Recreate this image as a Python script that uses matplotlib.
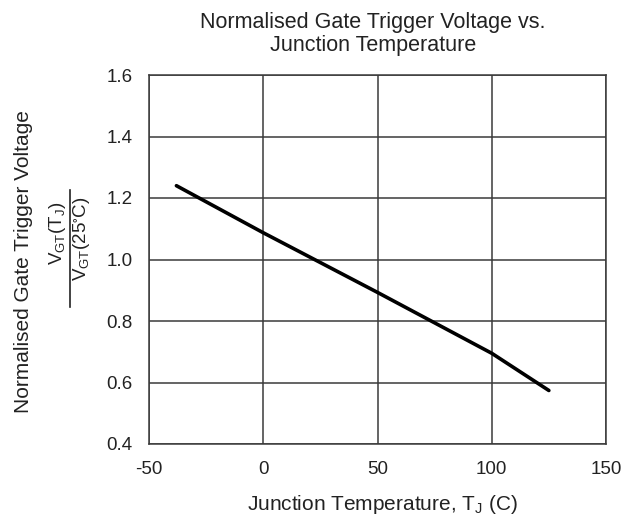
import matplotlib
matplotlib.use("Agg")
import matplotlib.pyplot as plt
from matplotlib.lines import Line2D

plt.rcParams['font.family'] = ['Liberation Sans', 'DejaVu Sans']
plt.rcParams['mathtext.fontset'] = 'custom'
plt.rcParams['mathtext.rm'] = 'Liberation Sans'
plt.rcParams['mathtext.it'] = 'Liberation Sans'
plt.rcParams['mathtext.default'] = 'regular'
plt.rcParams['axes.unicode_minus'] = False

temperature = [-38, 0, 50, 100, 125]
norm_vgt = [1.24, 1.087, 0.893, 0.695, 0.574]
x_ticks = [-50, 0, 50, 100, 150]
y_ticks = [0.4, 0.6, 0.8, 1.0, 1.2, 1.4, 1.6]

W, H = 636, 520
fig = plt.figure(figsize=(W / 100, H / 100), dpi=100)
ax = fig.add_axes([149 / W, 1 - 444 / H, (606 - 149) / W, (444 - 75) / H])
ax.plot(temperature, norm_vgt, color='black', lw=2.6, solid_capstyle='round')
ax.set_xlim(-50, 150)
ax.set_ylim(0.4, 1.6)
ax.set_xticks(x_ticks)
ax.set_xticklabels([str(v) for v in x_ticks])
ax.set_yticks(y_ticks)
ax.set_yticklabels([f"{v:.1f}" for v in y_ticks])
ax.grid(True, color='#3a3a3a', lw=1.1)
for s in ax.spines.values():
    s.set_color('#3a3a3a')
    s.set_linewidth(1.1)
ax.tick_params(length=0, labelsize=13.5, colors='#222222', pad=12)
ax.set_axisbelow(True)

fig.text(373 / W, 1 - 34 / H, "Normalised Gate Trigger Voltage vs.\nJunction Temperature",
         ha='center', va='center', fontsize=15.5, color='#222222', linespacing=1.1)
fig.text(382 / W, 1 - 504 / H, r"Junction Temperature, T$_J$ (C)",
         ha='center', va='center', fontsize=15, color='#222222')
fig.text(24 / W, 1 - 262 / H, "Normalised Gate Trigger Voltage", rotation=90,
         ha='center', va='center', fontsize=15, color='#222222')
fig.text(58 / W, 1 - 233 / H, r"V$_{GT}$(T$_J$)", rotation=90,
         ha='center', va='center', fontsize=13.5, color='#222222')
fig.text(82 / W, 1 - 239 / H, r"V$_{GT}$(25$^{\circ}$C)", rotation=90,
         ha='center', va='center', fontsize=13.5, color='#222222')
fig.add_artist(Line2D([70 / W, 70 / W], [1 - 190 / H, 1 - 307 / H],
                      transform=fig.transFigure, color='#222222', lw=1.2))

fig.savefig("out.png", dpi=100, facecolor='white')
